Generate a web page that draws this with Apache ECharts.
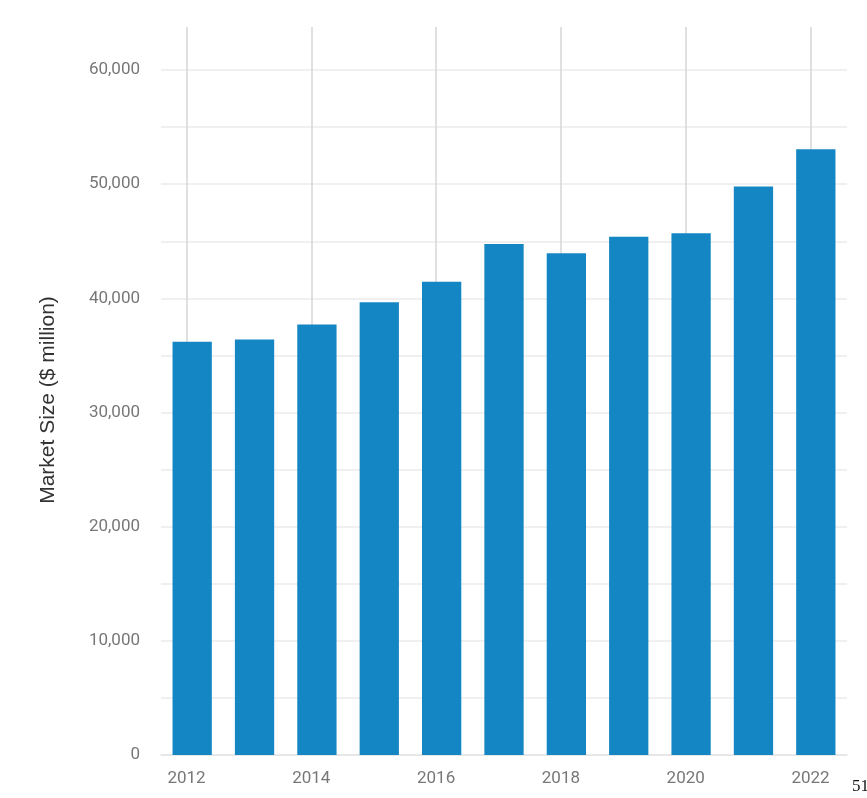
<!DOCTYPE html>
<html>
<head>
<meta charset="utf-8">
<script src="https://cdn.jsdelivr.net/npm/echarts@6/dist/echarts.min.js"></script>
<style>
  html, body { margin: 0; padding: 0; background: #fff; }
  #chart { width: 867px; height: 798px; }
</style>
</head>
<body>
<div id="chart"></div>
<script>
// Annual market size, $ million
const years = ['2012', '2013', '2014', '2015', '2016', '2017', '2018', '2019', '2020', '2021', '2022'];
const marketSize = [36200, 36400, 37700, 39650, 41450, 44750, 43950, 45400, 45700, 49800, 53050];
const yTicks = [0, 10000, 20000, 30000, 40000, 50000, 60000];
const yTitle = 'Market Size ($ million)';

const chart = echarts.init(document.getElementById('chart'), null, { renderer: 'canvas' });

const fmt = v => v.toLocaleString('en-US');

chart.setOption({
  animation: false,
  backgroundColor: '#ffffff',
  textStyle: { fontFamily: 'Roboto, sans-serif' },
  grid: [
    { left: 161, right: 20, top: 70, bottom: 43 },
    // year guide lines and labels, every two years
    { left: 186.5, width: 624, top: 27, bottom: 43 }
  ],
  xAxis: [
    {
      type: 'category',
      gridIndex: 0,
      data: years,
      boundaryGap: true,
      axisLine: { show: true, lineStyle: { color: '#e4e4e4', width: 1.5 } },
      axisTick: { show: false },
      axisLabel: { show: false },
      splitLine: { show: false }
    },
    {
      type: 'value',
      gridIndex: 1,
      min: 0,
      max: years.length - 1,
      interval: 2,
      axisLine: { show: false },
      axisTick: { show: false },
      axisLabel: {
        color: '#777',
        fontSize: 17,
        margin: 15,
        showMinLabel: true,
        showMaxLabel: true,
        formatter: v => years[v] || ''
      },
      splitLine: { show: true, lineStyle: { color: '#d6d6d6', width: 1.5 } }
    }
  ],
  yAxis: [
    {
      type: 'value',
      gridIndex: 0,
      min: yTicks[0],
      max: yTicks[yTicks.length - 1],
      interval: 5000,
      axisLine: { show: false },
      axisTick: { show: false },
      axisLabel: {
        color: '#777',
        fontSize: 17,
        margin: 21,
        formatter: v => (yTicks.includes(v) ? fmt(v) : '')
      },
      splitLine: { show: true, lineStyle: { color: '#ebebeb', width: 1.5 } }
    },
    {
      type: 'value',
      gridIndex: 1,
      min: 0,
      max: 1,
      show: false,
      splitLine: { show: false }
    }
  ],
  series: [
    {
      type: 'bar',
      xAxisIndex: 0,
      yAxisIndex: 0,
      data: marketSize,
      barCategoryGap: '37%',
      itemStyle: { color: '#1486c4' },
      z: 5
    }
  ],
  graphic: [
    {
      type: 'text',
      x: 48,
      y: 400,
      rotation: Math.PI / 2,
      style: {
        text: yTitle,
        fill: '#333',
        font: '21px "Liberation Sans", Arial, sans-serif',
        align: 'center',
        verticalAlign: 'middle'
      }
    },
    {
      type: 'text',
      left: 852,
      top: 778,
      style: { text: '51', fill: '#111', font: '17px "Liberation Serif", serif' }
    }
  ]
});
</script>
</body>
</html>
